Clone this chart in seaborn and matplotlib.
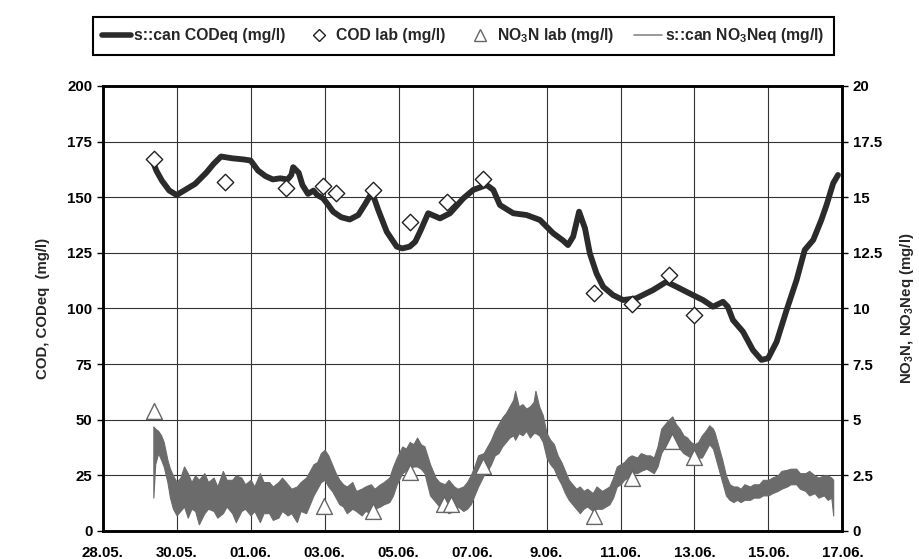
import matplotlib
matplotlib.use("Agg")
import numpy as np
import matplotlib.pyplot as plt
import seaborn as sns
from matplotlib.lines import Line2D

# ---------------- data (days since 28.05.) ----------------
cod_days = [1.37, 1.45, 1.6, 1.8, 2.0, 2.2, 2.5, 2.8, 3.0, 3.2, 3.5, 3.8, 4.0, 4.2, 4.4, 4.6,
            4.8, 5.0, 5.1, 5.15, 5.3, 5.4, 5.55, 5.7, 5.8, 5.96, 6.1, 6.23, 6.45, 6.68, 6.91,
            7.1, 7.27, 7.35, 7.45, 7.68, 7.95, 8.1, 8.3, 8.45, 8.58, 8.8, 9.12, 9.39, 9.75,
            10.02, 10.38, 10.56, 10.74, 11.1, 11.46, 11.82, 12.18, 12.45, 12.58, 12.72, 12.88,
            13.04, 13.17, 13.35, 13.53, 13.8, 14.07, 14.43, 14.88, 15.24, 15.51, 15.96, 16.23,
            16.5, 16.77, 16.9, 17.04, 17.31, 17.58, 17.81, 17.99, 18.22, 18.49, 18.76, 18.98,
            19.21, 19.43, 19.57, 19.75, 19.88]
cod_vals = [165.5, 162, 157.5, 153, 151, 153, 156, 161, 165, 168.3, 167.5, 167, 166.5, 162,
            159.5, 158, 158.5, 158, 160, 163.5, 161, 155.5, 151.5, 153, 151, 149.5, 146.5,
            143.5, 141, 140, 142, 147, 151.8, 149, 144.3, 134.5, 127.8, 127, 127.8, 130, 134.5,
            142.8, 140.5, 142.8, 149.5, 153.3, 155.5, 153.3, 146.5, 142.8, 142, 139.8, 133.8,
            130.5, 128.5, 132.3, 143.5, 136, 124.8, 115.8, 109.8, 106, 103.8, 104.6, 108.3, 112,
            109.8, 106, 103.8, 100.8, 103, 100.8, 94.8, 89.6, 81.3, 76.9, 77.6, 85, 99.3, 112.8,
            126.3, 130.8, 139.8, 146.5, 156.3, 160]

lab_cod_days = [1.39, 3.32, 4.95, 5.96, 6.32, 7.30, 8.31, 9.30, 10.29, 13.28, 14.3, 15.3, 16.0]
lab_cod_vals = [167, 157, 154, 155, 152, 153.3, 139, 148, 158.2, 106.8, 102, 115, 97]

lab_no3_days = [1.39, 5.99, 7.31, 8.31, 9.22, 9.43, 10.29, 13.28, 14.3, 15.38, 16.0]
lab_no3_vals = [5.4, 1.14, 0.91, 2.67, 1.21, 1.21, 2.92, 0.67, 2.37, 4.06, 3.31]

# NO3 sensor signal: lower / upper edge of the noisy trace
no3_days = [1.37, 1.42, 1.5, 1.58, 1.65, 1.75, 1.82,
            1.9, 2.0, 2.1, 2.2, 2.3, 2.4, 2.5, 2.6, 2.75, 2.85, 3.0, 3.1, 3.25, 3.35, 3.5, 3.6,
            3.75, 3.85, 4.0, 4.1, 4.25, 4.35, 4.5, 4.6, 4.75, 4.85, 5.0, 5.1, 5.25, 5.35, 5.5,
            5.6, 5.7, 5.8, 5.9, 6.0, 6.1, 6.2, 6.3, 6.4,
            6.5, 6.6, 6.75, 6.85, 7.0, 7.1, 7.25, 7.35, 7.5, 7.6, 7.75, 7.85,
            7.95, 8.1, 8.2, 8.3, 8.4, 8.5, 8.6, 8.7, 8.85,
            9.0, 9.1, 9.25, 9.35, 9.5, 9.6, 9.75, 9.85, 9.95,
            10.05, 10.15, 10.3, 10.4, 10.5, 10.6, 10.7, 10.8, 10.9, 11.0, 11.1, 11.15, 11.25,
            11.35, 11.45, 11.55, 11.65, 11.7, 11.8, 11.9,
            12.0, 12.1, 12.2, 12.3, 12.4, 12.5, 12.6, 12.7, 12.8,
            12.9, 13.0, 13.1, 13.25, 13.35, 13.5, 13.6, 13.7, 13.8,
            13.9, 14.0, 14.1, 14.2, 14.3, 14.45, 14.55, 14.7, 14.8, 14.9, 15.0,
            15.1, 15.2, 15.3, 15.4, 15.5, 15.6, 15.7, 15.8, 15.9, 16.0, 16.1, 16.2, 16.3, 16.4,
            16.5, 16.55, 16.65, 16.75, 16.85,
            16.95, 17.05, 17.15, 17.25, 17.35, 17.5, 17.6, 17.75, 17.85, 18.0, 18.1, 18.25,
            18.35, 18.5, 18.6, 18.75, 18.85, 19.0, 19.1, 19.25, 19.35, 19.5, 19.6, 19.7, 19.75]
no3_low = [1.5, 3.0, 3.5, 3.2, 2.9, 2.2, 1.5,
           1.0, 0.7, 0.9, 1.1, 0.6, 1.0, 0.9, 0.3, 0.8, 1.0, 0.9, 0.6, 0.8, 1.1, 0.8, 0.4,
           0.9, 1.0, 0.7, 0.9, 0.4, 0.8, 0.8, 0.5, 0.6, 0.9, 0.7, 0.8, 0.4, 0.9, 0.8,
           1.2, 1.6, 1.9, 2.2, 2.3, 2.0, 1.8, 1.5, 1.2,
           1.1, 0.8, 1.0, 0.9, 0.7, 0.9, 0.8, 1.0, 1.1, 1.2, 1.3, 1.6,
           2.1, 2.6, 2.7, 2.8, 2.9, 2.9, 2.8, 2.6, 1.6,
           1.3, 1.1, 1.0, 0.8, 0.9, 1.1, 0.9, 1.0, 1.2,
           1.6, 2.0, 2.5, 2.7, 3.0, 3.4, 3.5, 3.8, 4.0, 4.2, 4.3, 4.1, 4.4,
           4.3, 4.5, 4.2, 4.4, 4.4, 4.3, 4.0,
           3.3, 3.0, 2.8, 2.4, 2.1, 1.7, 1.4, 1.2, 1.0,
           0.8, 1.0, 1.1, 0.9, 1.0, 1.0, 1.1, 1.2, 1.5,
           2.0, 2.1, 2.3, 2.4, 2.6, 2.6, 2.7, 2.8, 2.7, 2.6, 2.9,
           3.5, 3.8, 4.0, 4.0, 3.9, 3.7, 3.5, 3.4, 3.3, 3.2, 3.3, 3.3, 3.6, 3.9,
           3.7, 3.4, 2.8, 2.2, 1.6,
           1.4, 1.3, 1.4, 1.3, 1.4, 1.4, 1.5, 1.5, 1.6, 1.6, 1.7, 1.8,
           1.9, 2.0, 2.1, 2.1, 1.9, 1.8, 1.6, 1.7, 1.5, 1.6, 1.4, 1.5, 0.7]
no3_high = [4.7, 4.6, 4.5, 4.3, 4.0, 3.2, 2.8,
            2.5, 2.2, 2.4, 2.9, 2.6, 2.2, 2.5, 2.3, 2.6, 2.2, 2.4, 2.0, 2.7, 2.3, 2.3, 2.5,
            2.4, 2.1, 2.3, 2.0, 2.6, 2.2, 2.2, 2.0, 2.2, 2.4, 2.1, 1.9, 2.0, 2.2, 2.4,
            2.7, 3.0, 3.1, 3.5, 3.65, 3.4, 3.0, 2.6, 2.3,
            2.1, 2.0, 2.2, 1.8, 1.9, 2.0, 2.1, 1.9, 2.1, 2.2, 2.4, 2.9,
            3.3, 3.8, 3.7, 4.0, 3.9, 4.2, 3.9, 3.8, 3.0,
            2.4, 2.2, 2.1, 2.3, 2.0, 1.9, 2.0, 2.2, 2.5,
            2.9, 3.4, 3.5, 3.8, 4.1, 4.5, 4.8, 5.1, 5.3, 5.6, 5.9, 6.3, 5.6,
            5.7, 5.5, 5.6, 5.8, 6.3, 5.6, 5.2,
            4.4, 4.1, 3.9, 3.4, 3.1, 2.7, 2.3, 2.1, 1.9,
            2.0, 1.8, 1.9, 1.7, 2.0, 1.8, 1.9, 2.0, 2.4,
            2.9, 3.0, 3.1, 3.3, 3.4, 3.3, 3.5, 3.4, 3.4, 3.3, 3.8,
            4.6, 4.8, 5.0, 5.15, 4.8, 4.6, 4.3, 4.2, 4.0, 3.9, 4.0, 4.3, 4.5, 4.75,
            4.6, 4.4, 3.8, 3.2, 2.5,
            2.1, 2.0, 2.0, 1.9, 2.1, 2.0, 2.1, 2.1, 2.3, 2.3, 2.4, 2.5,
            2.7, 2.75, 2.8, 2.8, 2.6, 2.6, 2.7, 2.5, 2.4, 2.5, 2.5, 2.4, 2.3]

x_ticks = [0, 2, 4, 6, 8, 10, 12, 14, 16, 18, 20]
x_tick_labels = ['28.05.', '30.05.', '01.06.', '03.06.', '05.06.', '07.06.', '9.06.',
                 '11.06.', '13.06.', '15.06.', '17.06.']
left_ticks = [0, 25, 50, 75, 100, 125, 150, 175, 200]
right_ticks = [0, 2.5, 5, 7.5, 10, 12.5, 15, 17.5, 20]
right_tick_labels = ['0', '2.5', '5', '7.5', '10', '12.5', '15', '17.5', '20']

# ---------------- style ----------------
sns.set_style("white")
plt.rcParams['font.family'] = ['Liberation Sans', 'DejaVu Sans']
plt.rcParams['font.weight'] = 'bold'
plt.rcParams['axes.labelweight'] = 'bold'
plt.rcParams['mathtext.fontset'] = 'custom'
plt.rcParams['mathtext.rm'] = 'Liberation Sans:bold'
plt.rcParams['mathtext.it'] = 'Liberation Sans:bold'
plt.rcParams['mathtext.bf'] = 'Liberation Sans:bold'

COD_C = '#2b2b2b'
NO3_C = '#6b6b6b'

fig = plt.figure(figsize=(9.2, 5.59), dpi=100)
ax = fig.add_axes([0.1116, 0.0501, 0.8041, 0.7961])
ax2 = ax.twinx()

# COD sensor line
sns.lineplot(x=cod_days, y=cod_vals, ax=ax, color=COD_C, lw=4.2, sort=False,
             estimator=None, label='s::can CODeq (mg/l)', legend=False)
# COD lab
sns.scatterplot(x=lab_cod_days, y=lab_cod_vals, ax=ax, marker='D', s=70,
                facecolor='white', edgecolor='#222222', linewidth=1.0, zorder=5,
                label='COD lab (mg/l)', legend=False)

# NO3 sensor trace
ax2.fill_between(no3_days, no3_low, no3_high, color=NO3_C, lw=0.8, edgecolor=NO3_C)
# NO3 lab
sns.scatterplot(x=lab_no3_days, y=lab_no3_vals, ax=ax2, marker='^', s=130,
                facecolor='white', edgecolor='#666666', linewidth=1.0, zorder=5,
                label='NO$_3$N lab (mg/l)', legend=False)

ax.set_xlim(0, 20)
ax.set_ylim(0, 200)
ax2.set_ylim(0, 20)
ax.set_xticks(x_ticks)
ax.set_xticklabels(x_tick_labels)
ax.set_yticks(left_ticks)
ax.set_yticklabels([str(v) for v in left_ticks])
ax2.set_yticks(right_ticks)
ax2.set_yticklabels(right_tick_labels)

ax.grid(True, color='#333333', lw=0.8)
ax2.grid(False)
for a in (ax, ax2):
    for s in a.spines.values():
        s.set_linewidth(1.8)
        s.set_color('black')
    a.tick_params(direction='out', length=4, width=1, labelsize=10.8, colors='black')
ax.tick_params(axis='x', pad=7)

ax.set_ylabel('COD, CODeq  (mg/l)', fontsize=10.8, fontweight='bold')
ax.yaxis.set_label_coords(-0.071, 0.5)
ax2.set_ylabel('NO$_3$N, NO$_3$Neq (mg/l)', fontsize=10.8, fontweight='bold', rotation=90)
ax2.yaxis.set_label_coords(1.075, 0.5)
ax.set_xlabel('')

handles = [Line2D([], [], color=COD_C, lw=4),
           Line2D([], [], ls='none', marker='D', ms=6, mfc='white', mec='#222222', mew=1),
           Line2D([], [], ls='none', marker='^', ms=8, mfc='white', mec='#666666', mew=1),
           Line2D([], [], color='#888888', lw=1.2)]
labels = ['s::can CODeq (mg/l)', 'COD lab (mg/l)', 'NO$_3$N lab (mg/l)', 's::can NO$_3$Neq (mg/l)']
leg = fig.legend(handles, labels, loc='center', ncol=4, mode='expand',
                 bbox_to_anchor=(0.0924, 0.894, 0.8228, 0.084),
                 frameon=True, fancybox=False, edgecolor='black', framealpha=1,
                 fontsize=11.3, handlelength=1.8, handletextpad=0.2, borderpad=0.6,
                 columnspacing=1.2)
leg.get_frame().set_linewidth(1.5)

fig.savefig('out.png', dpi=100)
